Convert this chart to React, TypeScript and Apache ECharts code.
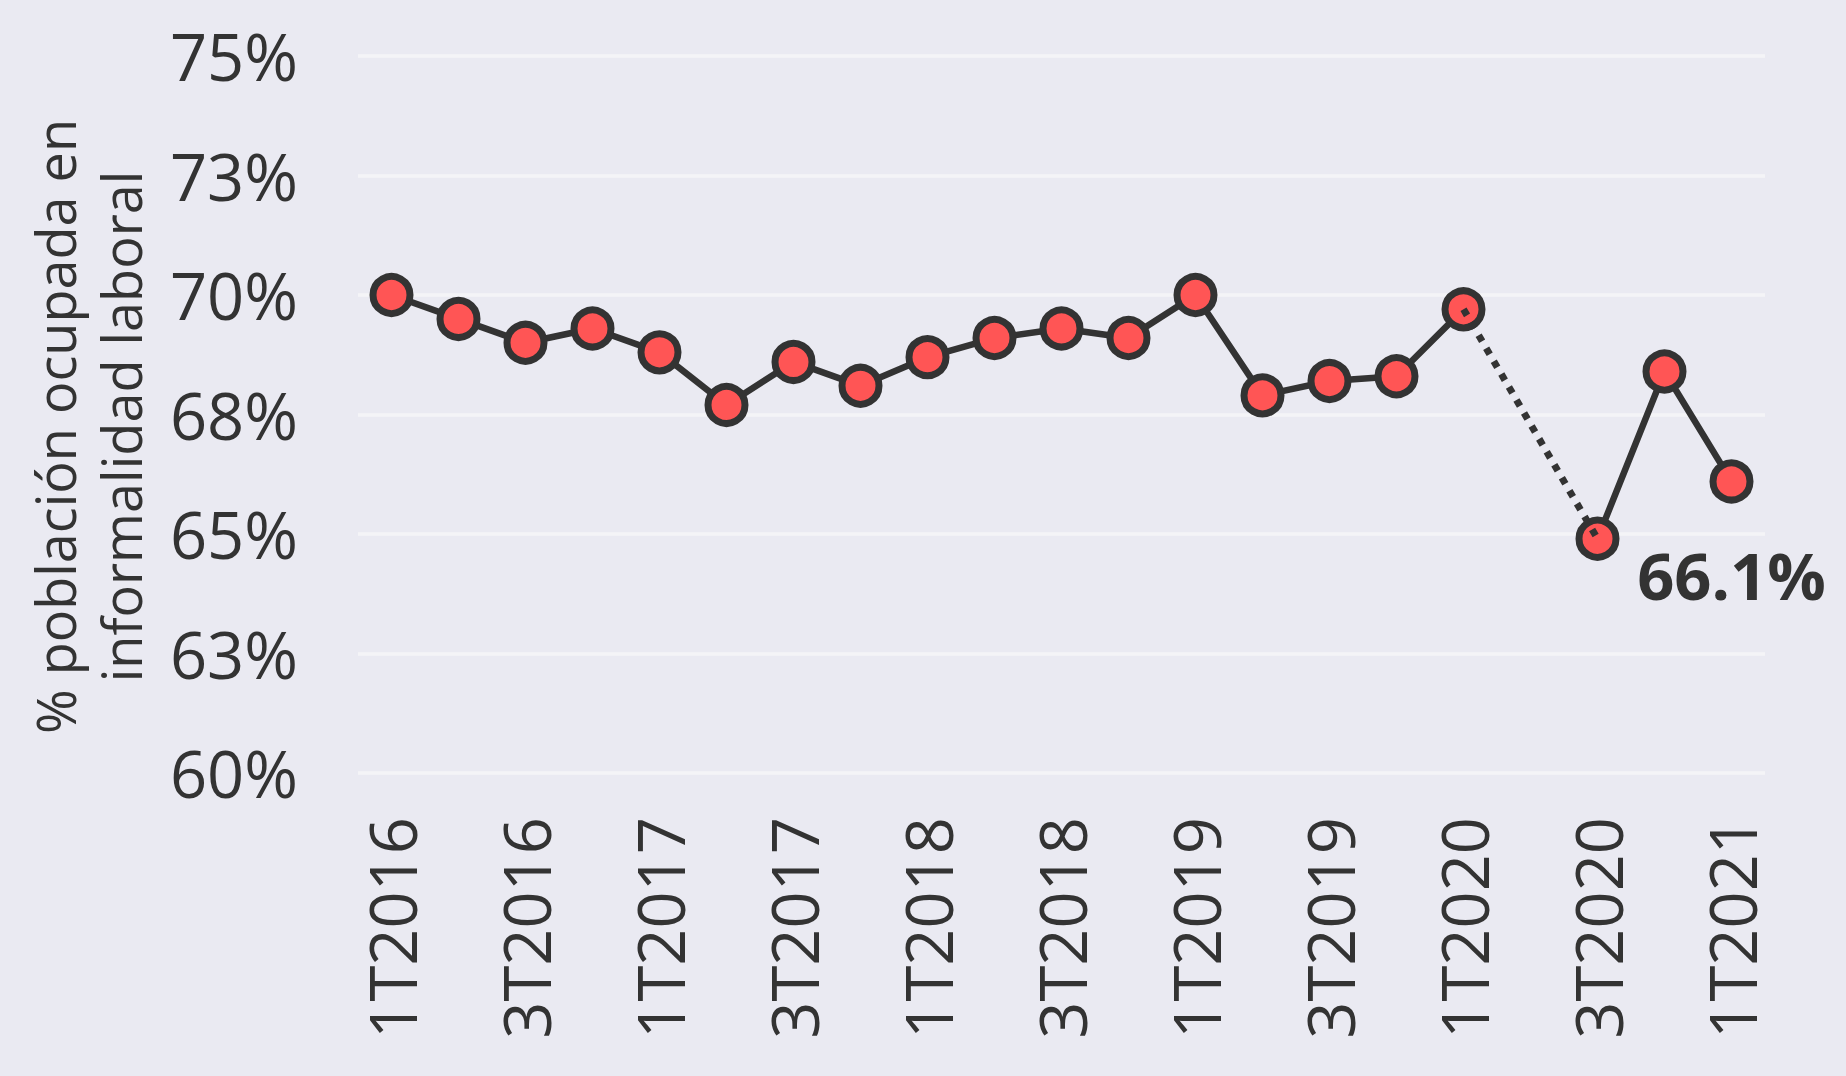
import React, { useEffect, useRef } from "react";
import * as echarts from "echarts";

const categories = [
  "1T2016", "2T2016", "3T2016", "4T2016",
  "1T2017", "2T2017", "3T2017", "4T2017",
  "1T2018", "2T2018", "3T2018", "4T2018",
  "1T2019", "2T2019", "3T2019", "4T2019",
  "1T2020", "2T2020", "3T2020", "4T2020",
  "1T2021",
];

const informalidad: (number | null)[] = [
  70.0, 69.5, 69.0, 69.3,
  68.8, 67.7, 68.6, 68.1,
  68.7, 69.1, 69.3, 69.1,
  70.0, 67.9, 68.2, 68.3,
  69.7, null, 64.9, 68.4,
  66.1,
];

// gap bridge (dotted) between 1T2020 and 3T2020
const bridgeFrom = 16;
const bridgeTo = 18;

const yTicks = [60, 62.5, 65, 67.5, 70, 72.5, 75];
const yTickLabels = ["60%", "63%", "65%", "68%", "70%", "73%", "75%"];

const lastLabel = "66.1%";

const FONT = "'Open Sans', 'Noto Sans', sans-serif";
const DARK = "#333333";

export default function App() {
  const ref = useRef<HTMLDivElement>(null);

  useEffect(() => {
    if (!ref.current) return;
    const chart = echarts.init(ref.current, null, { renderer: "svg" });

    const lastIdx = informalidad.length - 1;
    const mainData = informalidad.map((v, i) =>
      i === lastIdx
        ? {
            value: v,
            label: {
              show: true,
              position: "inside",
              offset: [0, 94],
              formatter: () => lastLabel,
              fontFamily: FONT,
              fontSize: 65,
              fontWeight: "bold",
              color: DARK,
            },
          }
        : v
    );
    const bridgeData = informalidad.map((v, i) =>
      i === bridgeFrom || i === bridgeTo ? v : null
    );

    chart.setOption({
      animation: false,
      backgroundColor: "#EAEAF2",
      grid: { left: 358, right: 81, top: 56, bottom: 303, containLabel: false },
      xAxis: {
        type: "category",
        data: categories,
        boundaryGap: true,
        axisLine: { show: false },
        axisTick: { show: false },
        splitLine: { show: false },
        axisLabel: {
          interval: 1,
          rotate: 90,
          margin: 44,
          fontFamily: FONT,
          fontSize: 65,
          color: DARK,
        },
      },
      yAxis: {
        type: "value",
        min: 60,
        max: 75,
        interval: 2.5,
        axisLine: { show: false },
        axisTick: { show: false },
        splitLine: { show: true, lineStyle: { color: "#F4F4F7", width: 3.5 } },
        axisLabel: {
          margin: 60,
          fontFamily: FONT,
          fontSize: 65,
          color: DARK,
          formatter: (v: number) => {
            const idx = yTicks.findIndex((t) => Math.abs(t - v) < 1e-6);
            return idx >= 0 ? yTickLabels[idx] : "";
          },
        },
        name: "% población ocupada en\ninformalidad laboral",
        nameLocation: "middle",
        nameGap: 204,
        nameTextStyle: {
          fontFamily: FONT,
          fontSize: 54,
          lineHeight: 66,
          color: DARK,
          align: "center",
          padding: [0, 24, 0, 0],
        },
      },
      series: [
        {
          type: "line",
          data: mainData,
          connectNulls: false,
          symbol: "circle",
          symbolSize: 37,
          lineStyle: { color: DARK, width: 6.5 },
          itemStyle: { color: "#FF5555", borderColor: DARK, borderWidth: 7 },
          z: 2,
        },
        {
          type: "line",
          data: bridgeData,
          connectNulls: true,
          symbol: "none",
          lineStyle: { color: DARK, width: 7, type: [7, 8], cap: "butt" },
          z: 3,
        },
      ],
    });

    return () => chart.dispose();
  }, []);

  return (
    <div
      ref={ref}
      style={{ width: "1846px", height: "1076px", position: "absolute", left: 0, top: 0 }}
    />
  );
}
